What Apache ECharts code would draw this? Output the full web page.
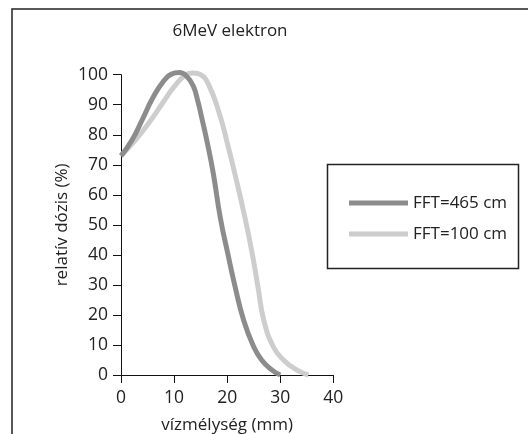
<!DOCTYPE html>
<html>
<head>
<meta charset="utf-8">
<script src="https://cdn.jsdelivr.net/npm/echarts@6/dist/echarts.min.js"></script>
<style>
  html, body { margin: 0; padding: 0; background: #fff; }
  #main { width: 528px; height: 434px; }
</style>
</head>
<body>
<div id="main"></div>
<script>
// depth (mm) / relative dose (%)
const depth465 = [0, 2, 4, 6, 8, 9.5, 11, 12.4, 13.6, 14.5, 15.3, 16.3, 17.4, 18.7, 20.1, 21.5, 23.1, 25, 26.5, 28.4, 30];
const dose465  = [73, 78, 85, 92.3, 97.8, 100.2, 100.7, 99.4, 96.3, 91, 85, 77, 67, 52.5, 40.6, 29.4, 18.3, 9.4, 5, 1.7, 0];
const depth100 = [0, 2, 4, 6, 8, 10, 12, 13.6, 15, 16.5, 18.6, 20.1, 21.5, 23.4, 24.7, 25.8, 26.9, 28.7, 30.6, 33.1, 35.3];
const dose100  = [73, 76.8, 81, 85.8, 91, 96, 99.7, 100.6, 100, 96.7, 86.7, 76.7, 66.7, 52, 40.6, 29.4, 18.3, 9.4, 5, 1.7, 0];
const seriesNames = ['FFT=465 cm', 'FFT=100 cm'];

const darkGray = '#8c8c8c';
const lightGray = '#cdcdcd';
const textColor = '#222';

function pairs(xs, ys) {
  return xs.map(function (x, i) { return [x, ys[i]]; });
}

var dom = document.getElementById('main');
var myChart = echarts.init(dom, null, { renderer: 'canvas' });

var option = {
  backgroundColor: '#fff',
  animation: false,
  textStyle: { fontFamily: 'Open Sans', color: textColor },
  title: {
    text: '6MeV elektron',
    left: 225,
    top: 18,
    textAlign: 'center',
    textStyle: { fontFamily: 'Open Sans', fontSize: 17, fontWeight: 'normal', color: textColor }
  },
  grid: { left: 121, top: 74.7, right: 194.7, bottom: 59, containLabel: false, outerBoundsMode: 'none' },
  legend: {
    orient: 'vertical',
    left: 344,
    top: 188,
    icon: 'rect',
    itemWidth: 59,
    itemHeight: 5,
    itemGap: 11,
    textStyle: { fontFamily: 'Open Sans', fontSize: 17, color: textColor, lineHeight: 20 },
    data: seriesNames
  },
  xAxis: {
    type: 'value',
    min: 0,
    max: 40,
    interval: 10,
    name: 'vízmélység (mm)',
    nameLocation: 'middle',
    nameGap: 42,
    nameTextStyle: { fontFamily: 'Open Sans', fontSize: 17, color: textColor },
    axisLine: { lineStyle: { color: '#111', width: 1 } },
    axisTick: { show: true, length: 8, lineStyle: { color: '#111' } },
    axisLabel: { fontFamily: 'Open Sans', fontSize: 17.5, color: textColor, margin: 14 },
    splitLine: { show: false }
  },
  yAxis: {
    type: 'value',
    min: 0,
    max: 100,
    interval: 10,
    name: 'relatív dózis (%)',
    nameLocation: 'middle',
    nameGap: 50,
    nameTextStyle: { fontFamily: 'Open Sans', fontSize: 17, color: textColor },
    axisLine: { show: true, lineStyle: { color: '#111', width: 1 } },
    axisTick: { show: true, length: 8, lineStyle: { color: '#111' } },
    axisLabel: { fontFamily: 'Open Sans', fontSize: 17.5, color: textColor, margin: 13 },
    splitLine: { show: false }
  },
  graphic: [
    {
      type: 'polyline',
      shape: { points: [[12, 434], [12, 9], [528, 9]] },
      style: { stroke: '#222', lineWidth: 1.5, fill: null },
      silent: true
    },
    {
      type: 'rect',
      shape: { x: 327.5, y: 164.5, width: 191, height: 104 },
      style: { stroke: '#222', lineWidth: 1.5, fill: null },
      silent: true,
      z: 0
    }
  ],
  series: [
    {
      name: seriesNames[0],
      type: 'line',
      data: pairs(depth465, dose465),
      smooth: true,
      clip: false,
      showSymbol: false,
      itemStyle: { color: darkGray },
      lineStyle: { color: darkGray, width: 5 },
      z: 3
    },
    {
      name: seriesNames[1],
      type: 'line',
      data: pairs(depth100, dose100),
      smooth: true,
      clip: false,
      showSymbol: false,
      itemStyle: { color: lightGray },
      lineStyle: { color: lightGray, width: 5 },
      z: 2
    }
  ]
};

if (option && typeof option === 'object') {
  myChart.setOption(option);
}

window.addEventListener('resize', myChart.resize);
</script>
</body>
</html>
